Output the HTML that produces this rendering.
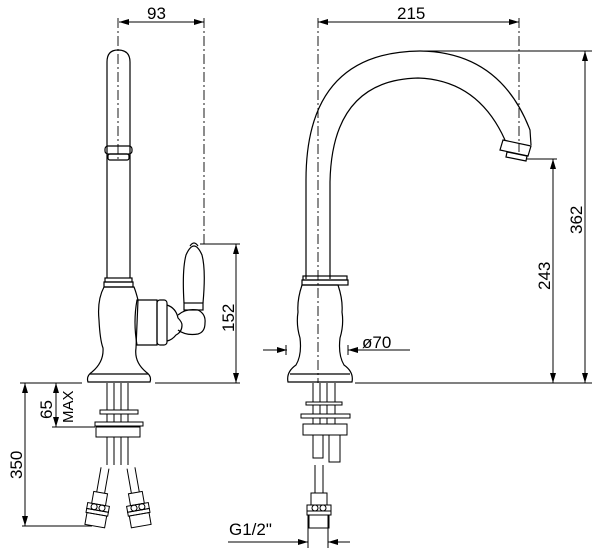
<!DOCTYPE html>
<html><head><meta charset="utf-8"><style>body{margin:0;background:#fff}svg{display:block}</style></head><body>
<svg width="603" height="551" viewBox="0 0 603 551" xmlns="http://www.w3.org/2000/svg" fill="none" stroke="#000" stroke-width="1.2" font-family="Liberation Sans, sans-serif">
<defs><marker id="a" viewBox="0 0 10 6" refX="10" refY="3" markerWidth="10" markerHeight="6" orient="auto-start-reverse" markerUnits="userSpaceOnUse"><path d="M0,0L10,3L0,6z" fill="#000" stroke="none"/></marker></defs>
<g fill="#000" stroke="none" font-size="17">
<text x="147" y="19">93</text>
<text x="397" y="19">215</text>
<text x="362" y="348">ø70</text>
<text x="229" y="535">G1/2"</text>
<text transform="translate(234,332) rotate(-90)">152</text>
<text transform="translate(550,290) rotate(-90)">243</text>
<text transform="translate(582,234) rotate(-90)">362</text>
<text transform="translate(22,479) rotate(-90)">350</text>
<text transform="translate(52,419) rotate(-90)">65</text>
<text transform="translate(73,423) rotate(-90)" font-size="15">MAX</text>
</g>
<g stroke-width="1">
<line x1="119" y1="22" x2="204" y2="22" marker-start="url(#a)" marker-end="url(#a)"/>
<line x1="318" y1="22" x2="519" y2="22" marker-start="url(#a)" marker-end="url(#a)"/>
<line x1="236" y1="244" x2="236" y2="383" marker-start="url(#a)" marker-end="url(#a)"/>
<line x1="200" y1="244" x2="240" y2="244"/><line x1="155" y1="383" x2="240" y2="383"/>
<line x1="585" y1="51" x2="585" y2="383" marker-start="url(#a)" marker-end="url(#a)"/>
<line x1="553" y1="159" x2="553" y2="383" marker-start="url(#a)" marker-end="url(#a)"/>
<line x1="420" y1="51" x2="592" y2="51"/><line x1="527" y1="159" x2="557" y2="159"/>
<line x1="355" y1="383" x2="592" y2="383"/>
<line x1="25" y1="383" x2="25" y2="526" marker-start="url(#a)" marker-end="url(#a)"/>
<line x1="20" y1="383" x2="82" y2="383"/><line x1="22" y1="526" x2="92" y2="526"/>
<line x1="56" y1="383" x2="56" y2="427" marker-start="url(#a)" marker-end="url(#a)"/>
<line x1="52" y1="427" x2="95" y2="427"/>
<line x1="263" y1="350" x2="287" y2="350" marker-end="url(#a)"/>
<line x1="410" y1="350" x2="348" y2="350" marker-end="url(#a)"/>
<line x1="286" y1="345" x2="286" y2="355"/><line x1="348" y1="345" x2="348" y2="355"/>
<line x1="228" y1="542" x2="308" y2="542" marker-end="url(#a)"/>
<line x1="350" y1="542" x2="328" y2="542" marker-end="url(#a)"/>
<line x1="308" y1="515" x2="308" y2="548"/><line x1="328" y1="515" x2="328" y2="548"/>
</g>
<g stroke-width="0.9" stroke-dasharray="10,3,2,3">
<line x1="118" y1="18" x2="118" y2="160"/>
<line x1="204" y1="18" x2="204" y2="245"/>
<line x1="318" y1="18" x2="318" y2="383"/>
<line x1="519" y1="18" x2="519" y2="152"/>
</g>
<path d="M107,278V62Q107,50 118,50Q130,50 130,62V278"/>
<rect x="105" y="146" width="27" height="8" rx="3"/><rect x="108" y="154" width="21" height="6" rx="2"/>
<rect x="105" y="278" width="27" height="4"/><rect x="104" y="282" width="29" height="5"/>
<path d="M104,287Q97,300 99,320Q100,340 103,348Q104,362 92,372Q86,376 88,382H150Q152,376 146,372Q134,362 136,348L138,300Q136,292 134,287Z"/>
<line x1="90" y1="374" x2="148" y2="374"/>
<path d="M137,300H157V345H137Q133,322 137,300Z"/>
<rect x="157" y="300" width="10" height="45" rx="3"/>
<path d="M167,305Q176,308 178,318Q182,322 182,325Q182,332 176,335Q172,340 167,341"/>
<path d="M178,315Q186,308 198,310Q206,314 205,323Q205,332 198,334Q186,336 178,330"/>
<rect x="184" y="303" width="19" height="7"/>
<path d="M184,303Q182,270 186,255Q190,246 194,246Q198,246 202,255Q206,270 203,303"/>
<path d="M190,246Q194,240 198,246"/>
<g stroke-width="1">
<line x1="107" y1="383" x2="107" y2="465"/><line x1="114" y1="383" x2="114" y2="465"/><line x1="121" y1="383" x2="121" y2="465"/><line x1="128" y1="383" x2="128" y2="465"/>
<rect x="100" y="410" width="38" height="4" fill="#fff"/>
<rect x="95" y="422" width="48" height="4" fill="#fff"/>
<rect x="96" y="427" width="44" height="10" fill="#fff"/>
<g transform="translate(105,468) rotate(10)">
<path d="M-4,0V25M4,0V25"/>
<rect x="-7" y="25" width="14" height="12"/>
<rect x="-11" y="37" width="22" height="6"/><circle cx="-4" cy="40" r="3"/><circle cx="4" cy="40" r="3"/>
<rect x="-11" y="43" width="22" height="4"/>
<rect x="-10" y="47" width="20" height="12"/>
</g>
<g transform="translate(131,468) rotate(-10)">
<path d="M-4,0V25M4,0V25"/>
<rect x="-7" y="25" width="14" height="12"/>
<rect x="-11" y="37" width="22" height="6"/><circle cx="-4" cy="40" r="3"/><circle cx="4" cy="40" r="3"/>
<rect x="-11" y="43" width="22" height="4"/>
<rect x="-10" y="47" width="20" height="12"/>
</g>
</g>
<path d="M306,279V180Q306,52 420,51Q500,52 530,130L531,145"/>
<path d="M330,279V182Q332,80 418,78Q478,80 505,140"/>
<path d="M503,140L531,146L528,156L500,150Z"/><path d="M507,152L527,156L526,161L506,157Z"/>
<rect x="303" y="276" width="44" height="4"/><rect x="302" y="280" width="46" height="5"/>
<path d="M302,285Q297,300 298,312Q296,325 300,338Q302,355 296,365Q286,372 288,382H352Q354,372 344,365Q338,355 340,338Q344,325 342,312Q343,300 338,285Z"/>
<line x1="290" y1="374" x2="350" y2="374"/>
<g stroke-width="1">
<line x1="313" y1="383" x2="313" y2="435"/><line x1="320" y1="383" x2="320" y2="435"/><line x1="327" y1="383" x2="327" y2="435"/><line x1="335" y1="383" x2="335" y2="435"/>
<rect x="306" y="402" width="36" height="3" fill="#fff"/>
<rect x="301" y="414" width="49" height="4" fill="#fff"/>
<rect x="303" y="424" width="44" height="11" fill="#fff"/>
<path d="M313,435V458H323V435M329,435V462H340V435"/>
<path d="M315,465V493M323,465V493"/>
<rect x="311" y="493" width="16" height="12"/><rect x="307" y="505" width="24" height="6"/><rect x="307" y="511" width="24" height="4"/><rect x="309" y="515" width="20" height="13"/>
<circle cx="315" cy="508" r="3"/><circle cx="323" cy="508" r="3"/>
</g>
</svg>
</body></html>
